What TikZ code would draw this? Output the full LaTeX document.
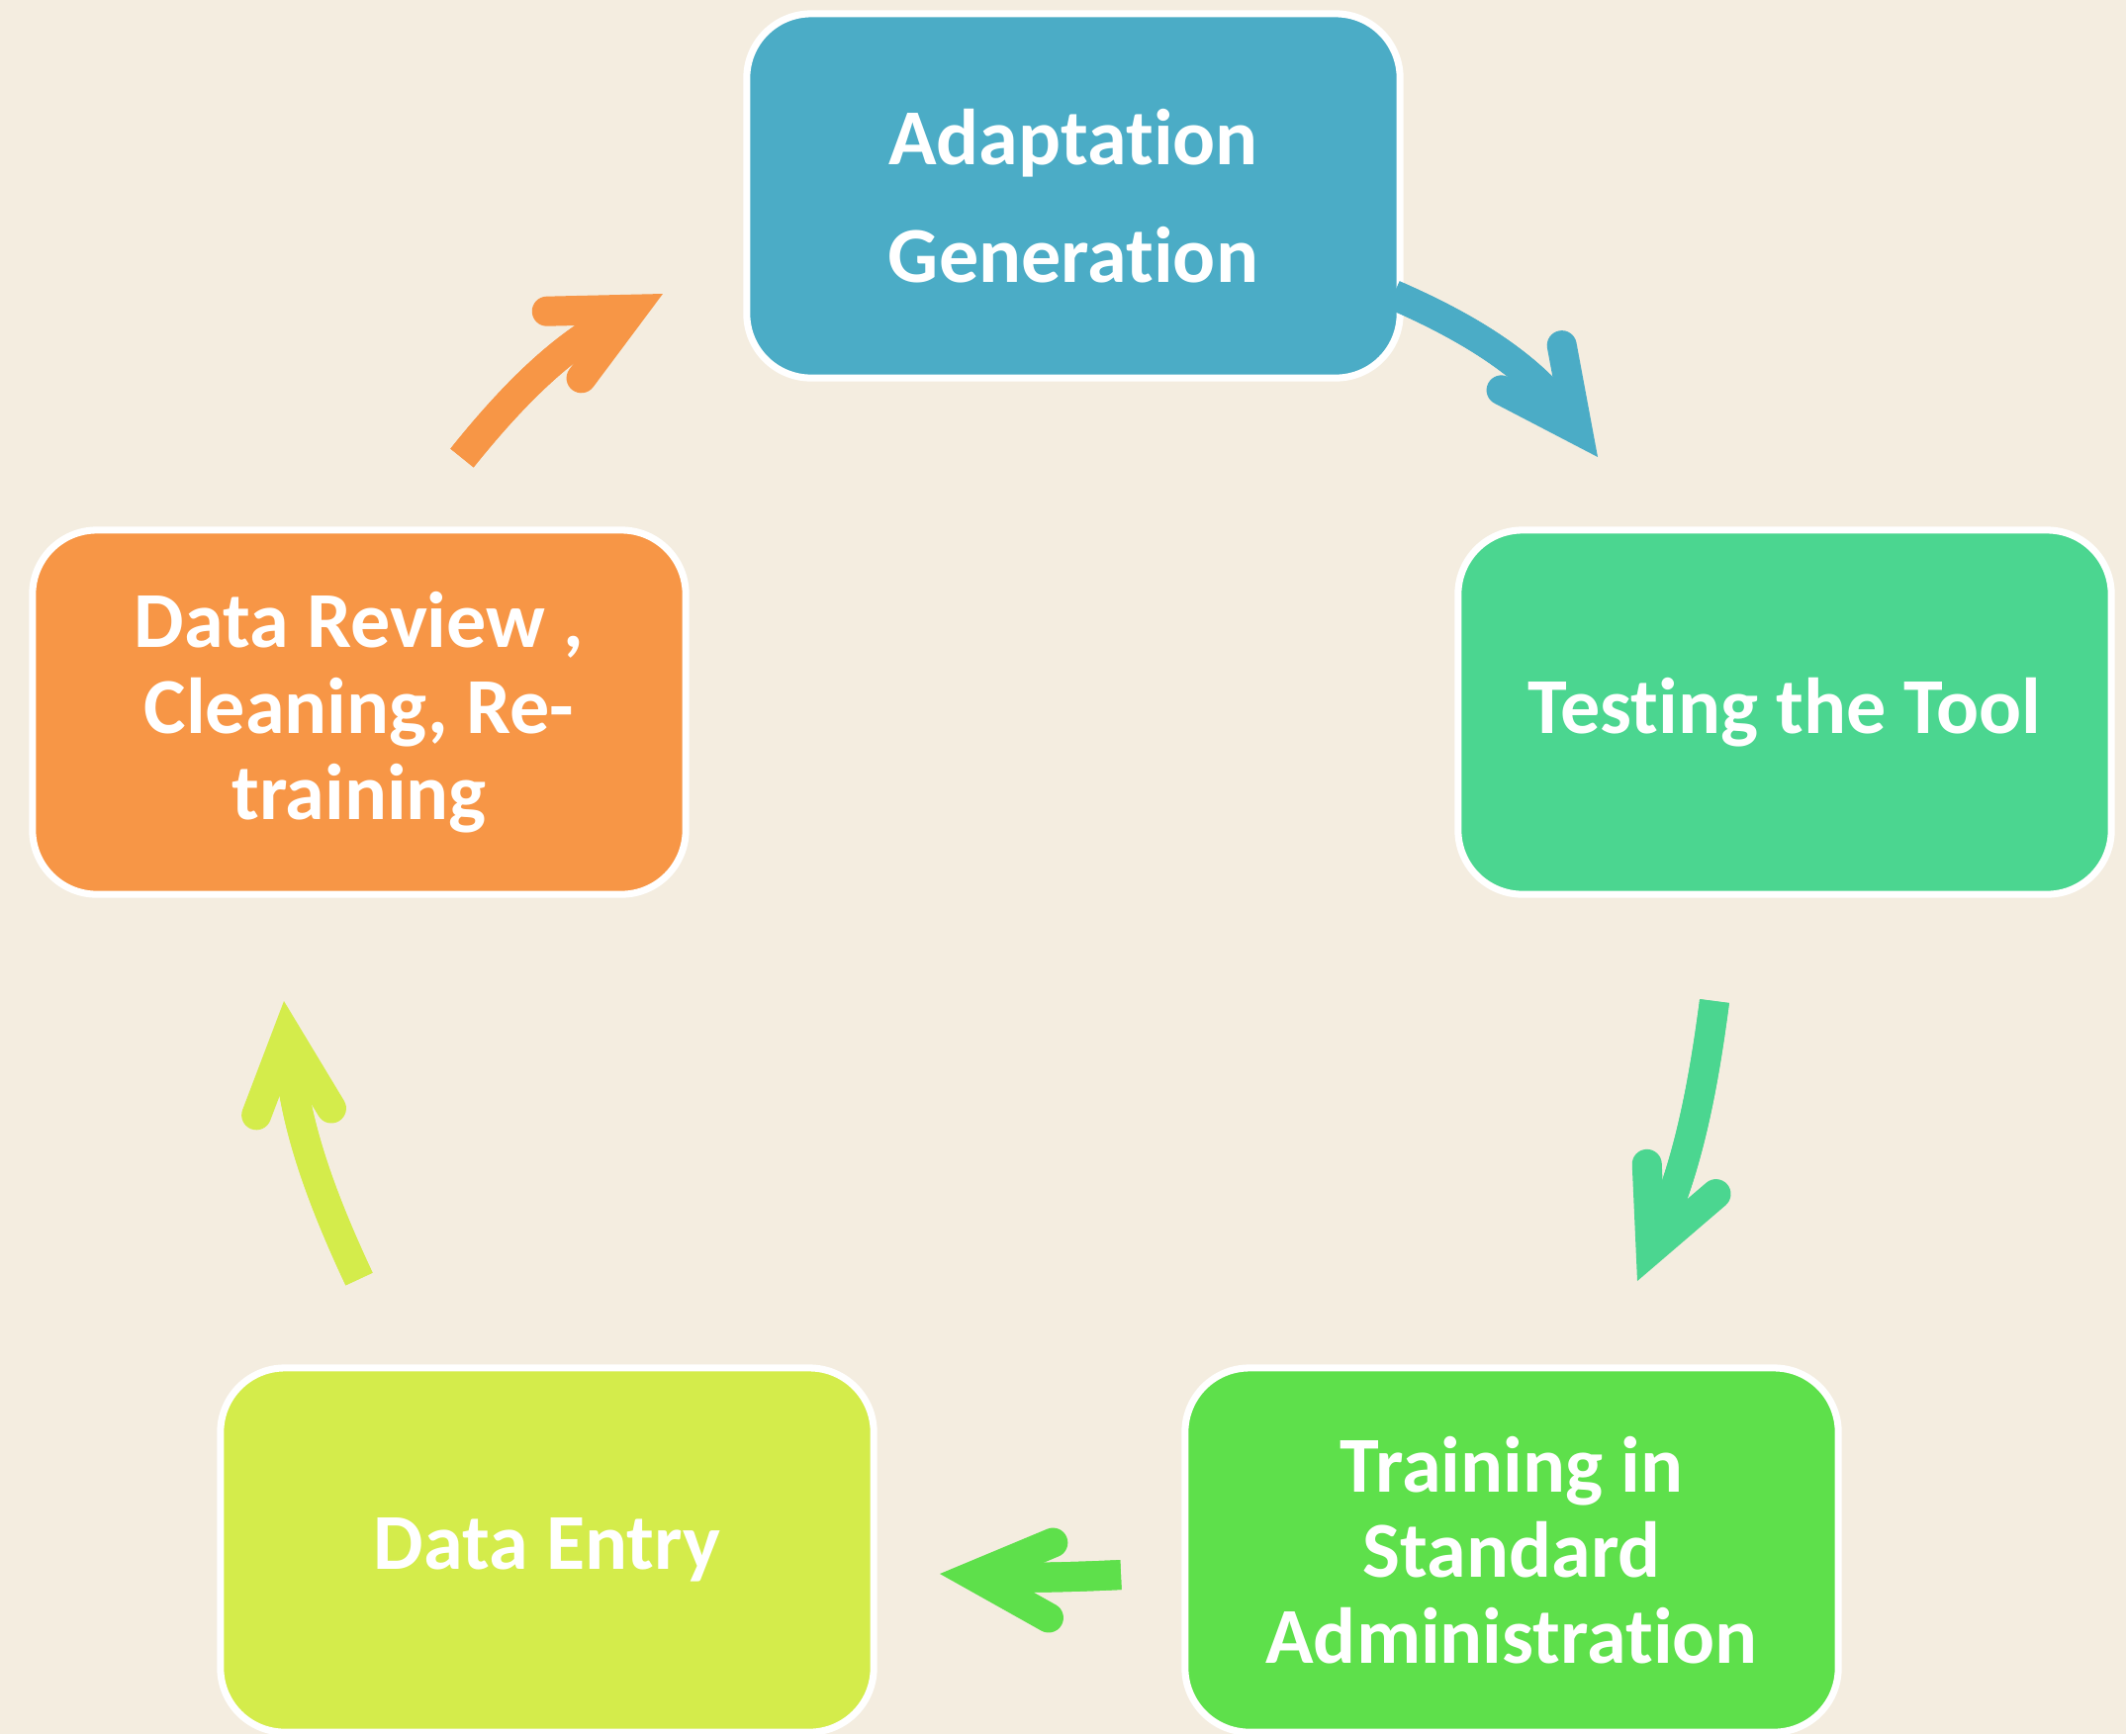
\documentclass[tikz,border=0pt]{standalone}
\usepackage{fontspec}
\setmainfont{Carlito}[Ligatures=NoCommon]
\usetikzlibrary{arrows.meta}

\definecolor{paper}{HTML}{F4EDE0}
\definecolor{adaptblue}{HTML}{4BACC6}
\definecolor{testgreen}{HTML}{4BD690}
\definecolor{traingreen}{HTML}{5EE04B}
\definecolor{entrylime}{HTML}{D4EC4B}
\definecolor{revieworange}{HTML}{F79646}

\tikzset{
	stage/.style={draw=white, line width=2pt, rounded corners=0.65cm,
		minimum width=6.6cm, minimum height=3.68cm, text=white, align=center,
		font=\bfseries\fontsize{22.8}{24.7}\selectfont},
	% shaft is redrawn up to the barbs so the head looks solid
	flow/.style={line width=0.3cm,
		-{Straight Barb[length=0.78cm, width=0.76cm, line cap=round, line join=miter]},
		postaction={draw, -, shorten >=0.5cm}},
}

\begin{document}
\begin{tikzpicture}[x=0.01cm, y=-0.01cm]
	\fill[paper] (0,0) rectangle (2149,1753);

	% the five stages of the cycle
	\node[stage, fill=adaptblue] (adapt) at (1085,198) {Adaptation\\[9pt]Generation};
	\node[stage, fill=testgreen] (testing) at (1804,720) {Testing the Tool};
	\node[stage, fill=traingreen] (training) at (1528,1567) {Training in\\Standard\\Administration};
	\node[stage, fill=entrylime] (entry) at (553,1567) {Data Entry};
	\node[stage, fill=revieworange] (review) at (363,720) {Data Review ,\\Cleaning, Re-\\training};

	% arrow ends
	\coordinate (reviewout) at (467,463);
	\coordinate (adaptin) at (670,297);
	\coordinate (adaptout) at ([xshift=-0.1cm, yshift=-1cm]adapt.east);
	\coordinate (testingin) at (1615,462);
	\coordinate (testingout) at (1733,1012);
	\coordinate (trainingin) at (1655,1295);
	\coordinate (trainingout) at (1133,1592);
	\coordinate (entryin) at (950,1591);
	\coordinate (entryout) at (363,1293);
	\coordinate (reviewin) at (287,1012);

	\foreach \from/\to/\bend/\col in {reviewout/adaptin/12/revieworange,
			adaptout/testingin/15/adaptblue, testingout/trainingin/8/testgreen,
			trainingout/entryin/3/traingreen, entryout/reviewin/10/entrylime} {
		\draw[flow, \col] (\from) to[bend left=\bend] (\to);
	}
\end{tikzpicture}
\end{document}
